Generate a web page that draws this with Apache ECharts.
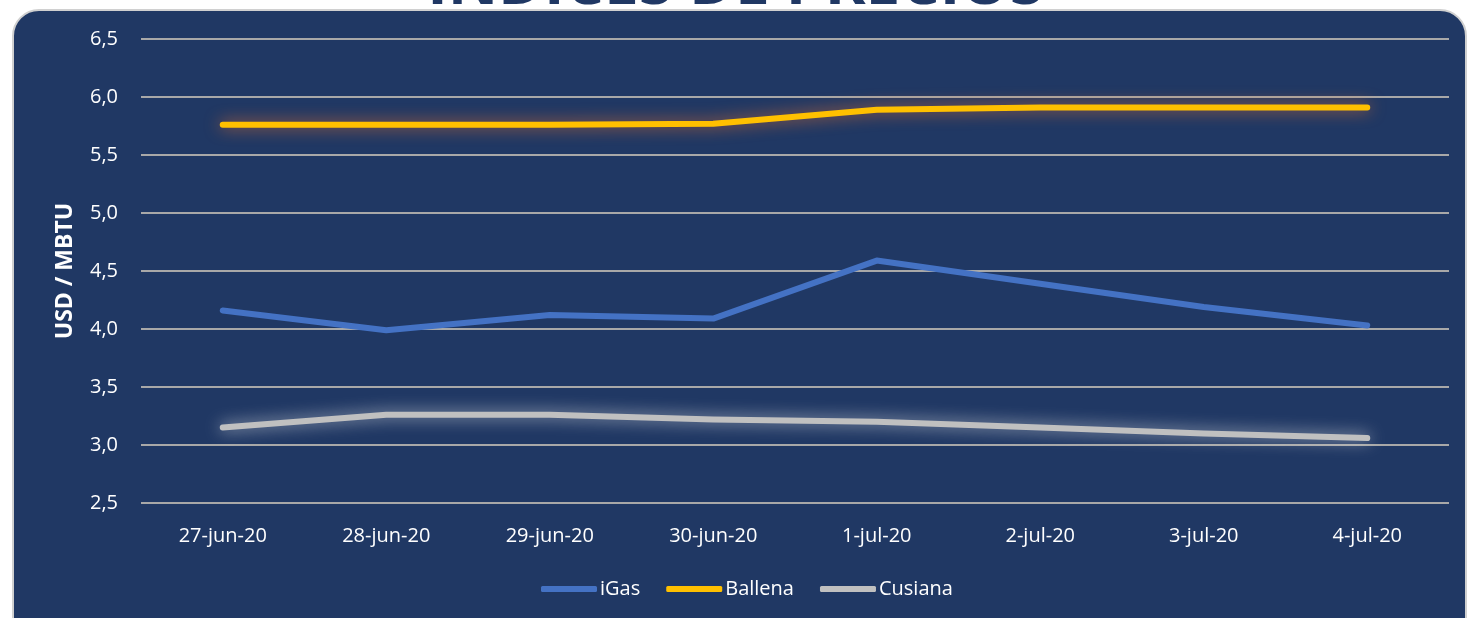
<!DOCTYPE html>
<html>
<head>
<meta charset="utf-8">
<script src="https://cdn.jsdelivr.net/npm/echarts@6/dist/echarts.min.js"></script>
<style>
html,body{margin:0;padding:0;background:#ffffff;}
#chart{width:1471px;height:618px;}
</style>
</head>
<body>
<div id="chart"></div>
<script>
const categories = ['27-jun-20','28-jun-20','29-jun-20','30-jun-20','1-jul-20','2-jul-20','3-jul-20','4-jul-20'];
const iGas    = [4.16, 3.99, 4.12, 4.09, 4.59, 4.39, 4.19, 4.03];
const ballena = [5.76, 5.76, 5.76, 5.77, 5.89, 5.91, 5.91, 5.91];
const cusiana = [3.15, 3.26, 3.26, 3.22, 3.20, 3.15, 3.10, 3.06];
const titleText = 'ÍNDICES DE PRECIOS';
const yAxisName = 'USD / MBTU';

const chart = echarts.init(document.getElementById('chart'), null, {renderer:'canvas'});
const font = '"Open Sans", "Noto Sans", sans-serif';
chart.setOption({
  backgroundColor: '#ffffff',
  animation: false,
  graphic: [
    {type:'rect', z:-10, shape:{x:13, y:10, width:1453, height:660, r:26},
     style:{fill:'#203864', stroke:'#d0d0d0', lineWidth:2}},
    {type:'text', z:-20, left:'center', top:-45,
     style:{text:titleText, fill:'#203864', font:'bold 62px "Open Sans", sans-serif'}}
  ],
  grid: {left:141, right:22, top:39, bottom:115},
  legend: {
    bottom: 14, left: 536,
    icon: 'roundRect',
    itemWidth: 56, itemHeight: 6, itemGap: 26,
    textStyle: {color:'#ffffff', fontSize:20, fontFamily:font, padding:[0,0,0,-2]},
    data: ['iGas','Ballena','Cusiana']
  },
  xAxis: {
    type:'category', data:categories, boundaryGap:true,
    axisLine:{show:false}, axisTick:{show:false},
    axisLabel:{color:'#ffffff', fontSize:20, fontFamily:font, margin:23}
  },
  yAxis: {
    type:'value', min:2.5, max:6.5, interval:0.5,
    name:yAxisName, nameLocation:'middle', nameGap:64, nameRotate:90,
    nameTextStyle:{color:'#ffffff', fontSize:23, fontWeight:'bold', fontFamily:font},
    axisLine:{show:false}, axisTick:{show:false},
    axisLabel:{color:'#ffffff', fontSize:20, fontFamily:font, margin:23,
      formatter: v => v.toFixed(1).replace('.', ',')},
    splitLine:{lineStyle:{color:'#a8a8a8', width:2}}
  },
  series: [
    {name:'iGas', type:'line', data:iGas, symbol:'none', smooth:false,
     itemStyle:{color:'#4472c4'},
     lineStyle:{color:'#4472c4', width:6, cap:'round', join:'round'}},
    {name:'Ballena', type:'line', data:ballena, symbol:'none',
     itemStyle:{color:'#ffc000'},
     lineStyle:{color:'#ffc000', width:6, cap:'round', join:'round',
       shadowColor:'rgba(255,120,40,0.75)', shadowBlur:16}},
    {name:'Cusiana', type:'line', data:cusiana, symbol:'none',
     itemStyle:{color:'#c0c0c0'},
     lineStyle:{color:'#c0c0c0', width:6, cap:'round', join:'round',
       shadowColor:'rgba(235,235,235,0.75)', shadowBlur:16}}
  ]
});
</script>
</body>
</html>
